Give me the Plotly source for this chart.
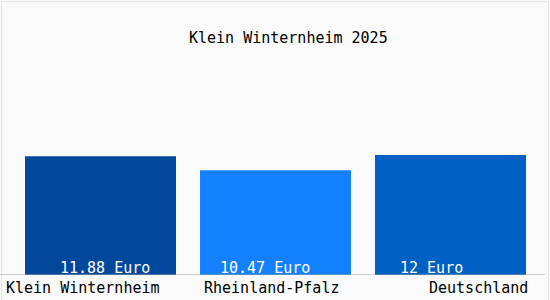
import plotly.graph_objects as go

categories = ["Klein Winternheim", "Rheinland-Pfalz", "Deutschland"]
values = [11.88, 10.47, 12.0]
value_labels = ["11.88 Euro", "10.47 Euro", "12 Euro"]
title_text = "Klein Winternheim 2025"

bar_colors = ["#03489a", "#1580ff", "#0060c4"]
value_xshift = [4.5, -11, -19.5]
label_anchor = ["left", "center", "right"]
label_xshift = [-96.5, -4, 79]

FONT = "DejaVu Sans Mono"
W, H = 550, 300
ML, MR, MT, MB = 13, 12, 35, 25
PW = W - ML - MR
PH = H - MT - MB

fig = go.Figure()
fig.add_trace(go.Bar(
    x=categories, y=values, marker=dict(color=bar_colors, line=dict(width=0)),
    hoverinfo="skip",
))

annotations = []
for i, c in enumerate(categories):
    annotations.append(dict(
        x=c, y=0, xref="x", yref="y", text=value_labels[i], showarrow=False,
        xanchor="center", yanchor="bottom", xshift=value_xshift[i], yshift=-4,
        font=dict(family=FONT, size=15, color="#ffffff"),
    ))
    annotations.append(dict(
        x=c, y=0, xref="x", yref="paper", text=c, showarrow=False,
        xanchor=label_anchor[i], yanchor="top", xshift=label_xshift[i], yshift=-2,
        font=dict(family=FONT, size=15, color="#000000"),
    ))
annotations.append(dict(
    x=(288 - ML) / PW, y=1 + (MT - 38) / PH, xref="paper", yref="paper",
    text=title_text, showarrow=False, xanchor="center", yanchor="middle",
    font=dict(family=FONT, size=15, color="#000000"),
))

shapes = [
    dict(type="line", xref="paper", yref="y",
         x0=(0 - ML) / PW, x1=(545 - ML) / PW, y0=0, y1=0,
         line=dict(color="#a0a0a0", width=1)),
    dict(type="rect", xref="paper", yref="paper",
         x0=(1.5 - ML) / PW, x1=(548.5 - ML) / PW,
         y0=-1, y1=1 + (MT - 1.5) / PH,
         line=dict(color="#e4e4e4", width=1), layer="below"),
]

fig.update_layout(
    width=W, height=H,
    margin=dict(l=ML, r=MR, t=MT, b=MB, pad=0, autoexpand=False),
    paper_bgcolor="#fafafa", plot_bgcolor="#fafafa",
    bargap=24 / 175,
    showlegend=False,
    xaxis=dict(range=[-0.5, len(categories) - 0.5], autorange=False,
               showticklabels=False, showgrid=False, zeroline=False,
               showline=False, ticks="", fixedrange=True, automargin=False),
    yaxis=dict(range=[0, 24], autorange=False, showticklabels=False,
               showgrid=False, zeroline=False, showline=False, ticks="",
               fixedrange=True, automargin=False),
    annotations=annotations,
    shapes=shapes,
    font=dict(family=FONT),
)

fig.write_html("out.html", config={"displayModeBar": False})
